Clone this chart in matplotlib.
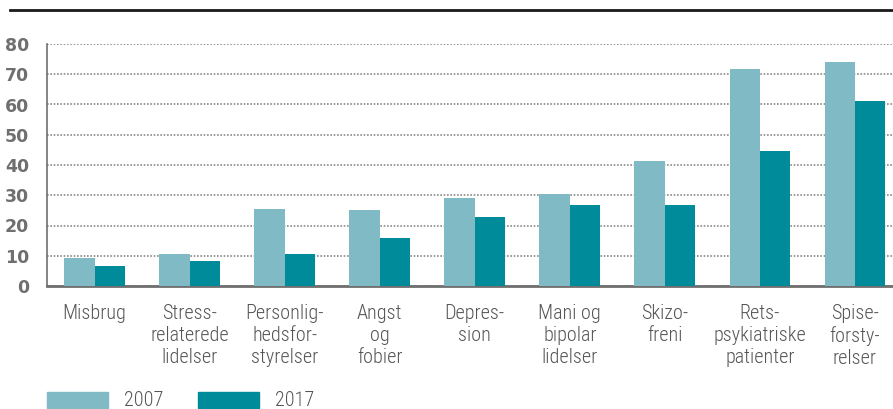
import matplotlib
matplotlib.use("Agg")
import matplotlib.pyplot as plt
from matplotlib.patches import Rectangle
from matplotlib.lines import Line2D
import numpy as np

categories = ["Misbrug", "Stress-\nrelaterede\nlidelser", "Personlig-\nhedsfor-\nstyrelser",
              "Angst\nog\nfobier", "Depres-\nsion", "Mani og\nbipolar\nlidelser",
              "Skizo-\nfreni", "Rets-\npsykiatriske\npatienter", "Spise-\nforsty-\nrelser"]
v2007 = [9.2, 10.5, 25.4, 25.1, 29.0, 30.4, 41.3, 71.8, 74.1]
v2017 = [6.5, 8.2, 10.5, 15.8, 22.7, 26.7, 26.7, 44.6, 61.2]
years = ["2007", "2017"]

c2007 = "#7fbac5"
c2017 = "#008b9b"
grey = "#6f6f6f"
txt = "#555555"
lab_font = dict(family=["Roboto Condensed", "DejaVu Sans"], fontweight="light", color=txt)

W, H = 893, 409
fig = plt.figure(figsize=(W / 100, H / 100), dpi=100)
ax = fig.add_axes([47 / W, 1 - 286 / H, (W - 47) / W, (286 - 44) / H])

x = np.arange(len(categories))
bw = 0.32
ax.bar(x - bw / 2, v2007, bw, color=c2007, zorder=3)
ax.bar(x + bw / 2, v2017, bw, color=c2017, zorder=3)

ax.set_xlim(-0.5, 8.4)
ax.set_ylim(0, 80)
ax.set_yticks(range(0, 81, 10))
ax.yaxis.grid(True, linestyle=(0, (1, 1)), color="#8a8a8a", linewidth=1.2, zorder=0)
for s in ["top", "right"]:
    ax.spines[s].set_visible(False)
ax.spines["left"].set_color(grey)
ax.spines["left"].set_linewidth(1.2)
ax.spines["bottom"].set_color(grey)
ax.spines["bottom"].set_linewidth(2)
ax.tick_params(axis="both", length=0)
ax.tick_params(axis="y", pad=13)
for lbl in ax.get_yticklabels():
    lbl.set_fontweight("bold")
    lbl.set_color(grey)
    lbl.set_fontsize(12.5)
    lbl.set_family("DejaVu Sans")

ax.set_xticks(x)
ax.set_xticklabels(categories, fontsize=14.5, linespacing=1.2, **lab_font)
ax.tick_params(axis="x", pad=13)

# top rule
fig.add_artist(Line2D([10 / W, 1], [1 - 10 / H, 1 - 10 / H], color="#1a1a1a", linewidth=2))

# legend
for x0, yr, col in zip([47, 198], years, [c2007, c2017]):
    fig.add_artist(Rectangle((x0 / W, 1 - 408 / H), 61 / W, 16 / H, color=col,
                             transform=fig.transFigure))
    fig.text((x0 + 77) / W, 1 - 400 / H, yr, fontsize=14.5, va="center", **lab_font)

fig.savefig("out.png", dpi=100)
